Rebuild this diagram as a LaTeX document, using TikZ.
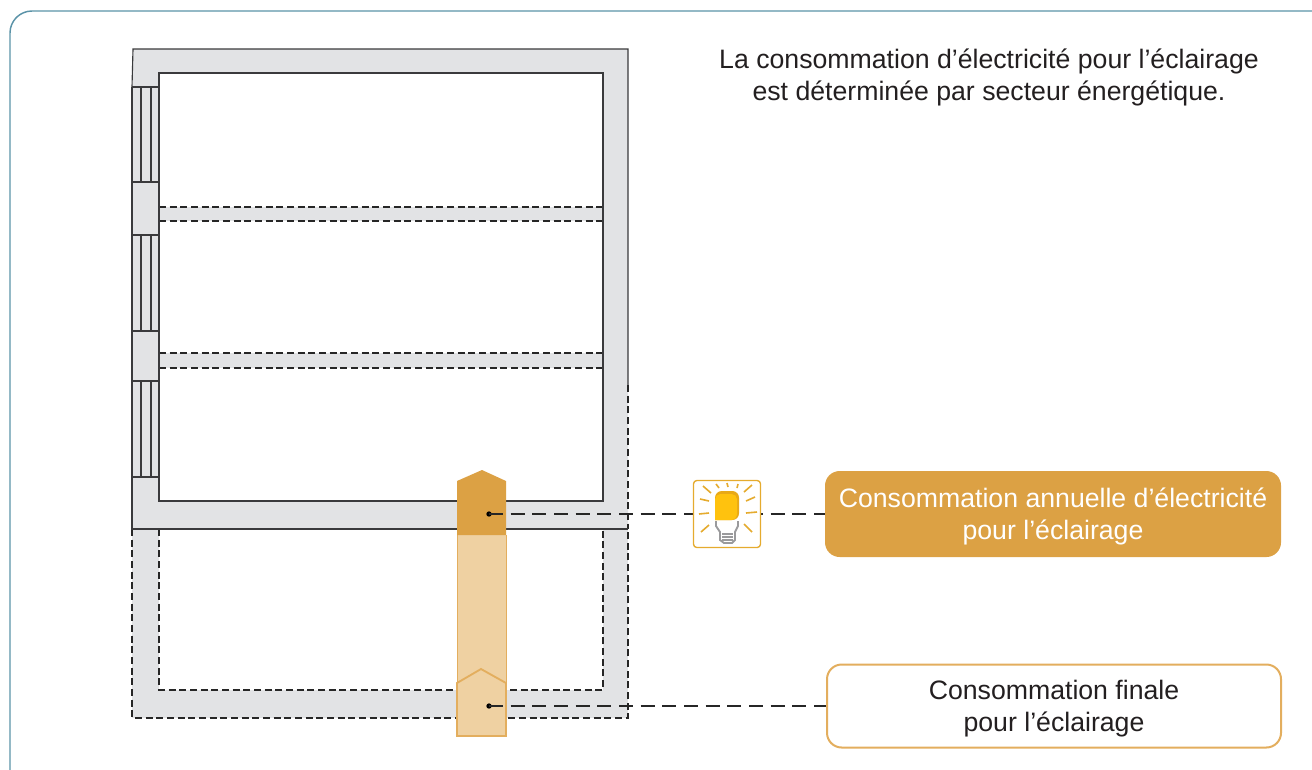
\documentclass[tikz,border=0pt]{standalone}
\usepackage{fontspec}
\setmainfont{Liberation Sans}
\definecolor{wallgray}{HTML}{E2E3E5}
\definecolor{linegray}{HTML}{3A3A3C}
\definecolor{ocre}{HTML}{DCA144}
\definecolor{ocrelight}{HTML}{EFD1A2}
\definecolor{ocreline}{HTML}{E3AE5E}
\definecolor{framecol}{HTML}{5B93A8}
\definecolor{bulb}{HTML}{FFC20E}
\definecolor{bulbdark}{HTML}{E8A917}
\definecolor{raycol}{HTML}{E5AB2E}
\definecolor{basegray}{HTML}{9A9A9C}
\definecolor{txt}{HTML}{231F20}
\tikzset{
  wline/.style={draw=linegray,line width=0.85pt},
  dline/.style={draw=black!85,line width=0.85pt,dash pattern=on 5.2pt off 2.8pt},
  lead/.style={draw=black!85,line width=0.9pt,dash pattern=on 10.5pt off 5.75pt},
  dotn/.style={circle,fill=black,inner sep=0pt,minimum size=4pt},
  label/.style={font=\fontsize{20pt}{24pt}\selectfont,align=center,text=txt,inner sep=0pt},
  ray/.style={draw=raycol,line width=1.2pt},
}
\begin{document}
\begin{tikzpicture}[x=0.75pt,y=-0.75pt]
\useasboundingbox (0,0) rectangle (1312,769);
\begin{scope}
\clip (0,0) rectangle (1312,769);
\draw[framecol,line width=1.1pt,rounded corners=16.5pt] (10,830) -- (10,11) -- (1340,11);
\end{scope}
% basement
\fill[wallgray] (132,529) rectangle (628,718);
\fill[white] (159,529) rectangle (603,690);
\draw[dline] (132,529) -- (132,718) -- (628,718) -- (628,529);
\draw[dline] (159,529) -- (159,690) -- (603,690) -- (603,529);
% building
\fill[wallgray] (133,49) -- (628,49) -- (628,529) -- (132,529) -- cycle;
\fill[white] (159,73) rectangle (603,501);
\fill[wallgray] (159,207) rectangle (603,221);
\fill[wallgray] (159,353) rectangle (603,368);
\draw[dline] (159,207) -- (603,207) (159,221) -- (603,221) (159,353) -- (603,353) (159,368) -- (603,368);
\draw[wline] (132,87) -- (133,49) -- (628,49) -- (628,385);
\draw[dline] (628,385) -- (628,529);
\draw[wline] (159,87) -- (159,73) -- (603,73) -- (603,501) -- (159,501) -- (159,87);
\draw[wline] (132,87) -- (132,529) -- (628,529);
% windows
\foreach \ya/\yb in {87/182,235/331,381/477}{
  \draw[wline] (132,\ya) -- (159,\ya) (132,\yb) -- (159,\yb)
     (141,\ya) -- (141,\yb) (151,\ya) -- (151,\yb);
}
% arrows
\fill[ocrelight] (457,535) rectangle (506,736);
\draw[ocreline,line width=0.75pt] (457,535) -- (457,684) (506,535) -- (506,684);
\fill[ocre] (457,535) -- (457,481) -- (482,470) -- (506,481) -- (506,535) -- cycle;
\draw[ocreline,line width=1.4pt,fill=ocrelight] (457,736) -- (457,683) -- (481,669) -- (506,683) -- (506,736) -- cycle;
% connectors
\node[dotn] (d1) at (489,514) {};
\node[dotn] (d2) at (489,706) {};
\node[fill=ocre,rounded corners=11pt,minimum width=456*0.75pt,minimum height=86*0.75pt,inner sep=0pt] (b1) at (1053,514) {};
\node[label,text=white] (t1) at ([yshift=-1.5pt]b1.center) {Consommation annuelle d’électricité\\pour l’éclairage};
\node[fill=white,draw=ocreline,line width=1.5pt,rounded corners=11pt,minimum width=454*0.75pt,minimum height=83*0.75pt,inner sep=0pt] (b2) at (1054,706) {};
\node[label] (t2) at ([yshift=-2.25pt]b2.center) {Consommation finale\\pour l’éclairage};
\draw[lead] (d1.center) -- (b1);
\draw[lead] (d2.center) -- (b2);
% icon
\node[draw=raycol,fill=white,line width=1pt,rounded corners=2.5pt,minimum width=67*0.75pt,minimum height=67*0.75pt,inner sep=0pt] (ic) at (727,514) {};
\draw[ray] (703,486) -- (711,493) (716,484) -- (719,488) (727,483) -- (728,487) (738,484) -- (737,488) (752,485) -- (744,492)
 (700,499) -- (709,501) (746,501) -- (755,497) (699,514) -- (709,513) (746,513) -- (757,512) (701,532) -- (709,525) (744,524) -- (752,532);
\fill[bulbdark,rounded corners=5pt] (715,520) -- (715,491) -- (739,491) -- (739,520) [sharp corners] -- cycle;
\fill[bulb,rounded corners=4pt] (715,520) -- (715,494) -- (737,494) -- (737,520) [sharp corners] -- cycle;
\draw[basegray,line width=1.4pt,fill=white] (716,521) -- (716,526) -- (720,532) -- (720,540) -- (724,543) -- (732,543) -- (735,540) -- (735,532) -- (738,526) -- (738,521);
\draw[basegray,line width=0.8pt] (722,534) -- (733,534) (722,537) -- (733,537) (722,540) -- (733,540);
% title
\node[label] (title) at (989,77) {La consommation d’électricité pour l’éclairage\\est déterminée par secteur énergétique.};
\end{tikzpicture}
\end{document}
